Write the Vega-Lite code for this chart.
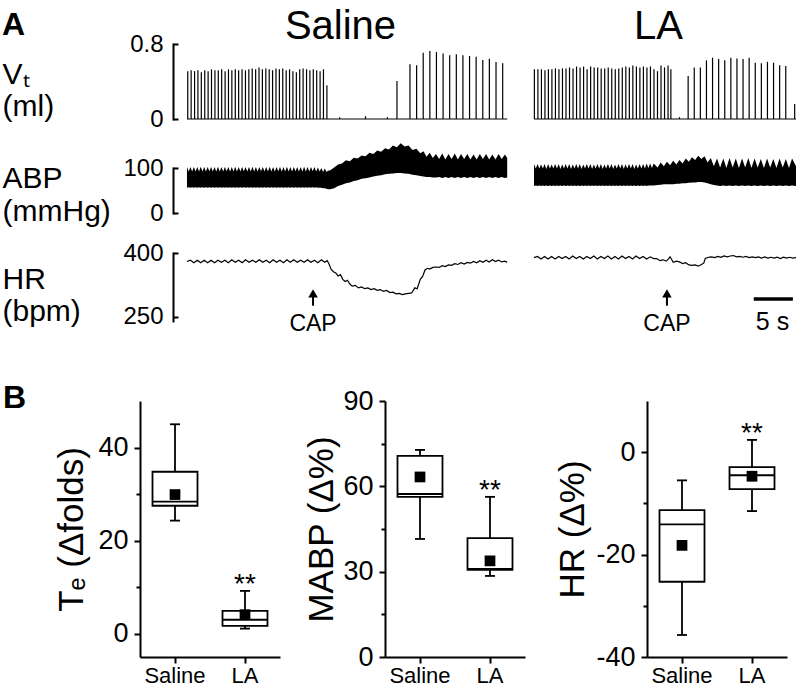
{
"$schema": "https://vega.github.io/schema/vega-lite/v6.json",
"padding": {"left": 2, "top": 6, "right": 0, "bottom": 0},
"config": {"font": "Liberation Sans", "view": {"stroke": null}, "axis": {"grid": false, "domainColor": "black", "tickColor": "black", "labelColor": "black", "titleColor": "black", "titleFontWeight": "normal"}},
"datasets": {
"vtS": [{"t":0.1,"v":0.51},{"t":0.53,"v":0.52},{"t":0.97,"v":0.51},{"t":1.4,"v":0.52},{"t":1.83,"v":0.5},{"t":2.27,"v":0.52},{"t":2.7,"v":0.51},{"t":3.13,"v":0.53},{"t":3.57,"v":0.52},{"t":4.0,"v":0.52},{"t":4.43,"v":0.53},{"t":4.87,"v":0.51},{"t":5.3,"v":0.53},{"t":5.73,"v":0.52},{"t":6.17,"v":0.53},{"t":6.6,"v":0.52},{"t":7.03,"v":0.53},{"t":7.47,"v":0.52},{"t":7.9,"v":0.53},{"t":8.33,"v":0.54},{"t":8.77,"v":0.53},{"t":9.2,"v":0.55},{"t":9.63,"v":0.53},{"t":10.07,"v":0.54},{"t":10.5,"v":0.53},{"t":10.93,"v":0.52},{"t":11.37,"v":0.54},{"t":11.8,"v":0.53},{"t":12.23,"v":0.54},{"t":12.67,"v":0.52},{"t":13.1,"v":0.53},{"t":13.53,"v":0.51},{"t":13.97,"v":0.5},{"t":14.4,"v":0.53},{"t":14.83,"v":0.54},{"t":15.27,"v":0.53},{"t":15.7,"v":0.52},{"t":16.13,"v":0.53},{"t":16.57,"v":0.52},{"t":17.0,"v":0.51},{"t":17.43,"v":0.53},{"t":17.87,"v":0.36},{"t":19.5,"v":0.02},{"t":22.8,"v":0.03},{"t":25.6,"v":0.02},{"t":26.82,"v":0.405},{"t":28.48,"v":0.583},{"t":29.33,"v":0.573},{"t":30.17,"v":0.707},{"t":31.02,"v":0.725},{"t":31.86,"v":0.715},{"t":32.71,"v":0.7},{"t":33.55,"v":0.68},{"t":34.4,"v":0.69},{"t":35.24,"v":0.68},{"t":36.09,"v":0.672},{"t":36.93,"v":0.665},{"t":37.78,"v":0.63},{"t":38.62,"v":0.643},{"t":39.47,"v":0.608},{"t":40.32,"v":0.594}],
"vtL": [{"t":0.05,"v":0.53},{"t":0.5,"v":0.53},{"t":0.95,"v":0.53},{"t":1.4,"v":0.52},{"t":1.84,"v":0.53},{"t":2.29,"v":0.53},{"t":2.74,"v":0.54},{"t":3.19,"v":0.53},{"t":3.64,"v":0.54},{"t":4.09,"v":0.54},{"t":4.54,"v":0.55},{"t":4.99,"v":0.54},{"t":5.44,"v":0.56},{"t":5.89,"v":0.55},{"t":6.34,"v":0.56},{"t":6.79,"v":0.53},{"t":7.24,"v":0.56},{"t":7.69,"v":0.55},{"t":8.14,"v":0.55},{"t":8.59,"v":0.54},{"t":9.04,"v":0.54},{"t":9.49,"v":0.55},{"t":9.94,"v":0.54},{"t":10.39,"v":0.53},{"t":10.84,"v":0.54},{"t":11.29,"v":0.55},{"t":11.74,"v":0.56},{"t":12.19,"v":0.55},{"t":12.64,"v":0.57},{"t":13.09,"v":0.56},{"t":13.54,"v":0.55},{"t":13.99,"v":0.56},{"t":14.44,"v":0.55},{"t":14.89,"v":0.56},{"t":15.34,"v":0.53},{"t":15.79,"v":0.51},{"t":16.24,"v":0.57},{"t":16.69,"v":0.55},{"t":17.14,"v":0.57},{"t":17.5,"v":0.53},{"t":18.6,"v":0.02},{"t":19.71,"v":0.46},{"t":20.49,"v":0.55},{"t":21.27,"v":0.55},{"t":22.05,"v":0.626},{"t":22.83,"v":0.654},{"t":23.61,"v":0.64},{"t":24.39,"v":0.626},{"t":25.17,"v":0.654},{"t":25.95,"v":0.646},{"t":26.73,"v":0.64},{"t":27.51,"v":0.654},{"t":28.29,"v":0.6},{"t":29.07,"v":0.594},{"t":29.85,"v":0.61},{"t":30.63,"v":0.6},{"t":31.41,"v":0.573},{"t":32.19,"v":0.565},{"t":33.33,"v":0.16}],
"segS": [{"t":0,"t2":40.9}],
"segL": [{"t":0,"t2":33.5}],
"abpS": [{"t":0,"lo":56,"hi":102},{"t":0.22,"lo":57,"hi":92},{"t":0.44,"lo":56,"hi":102},{"t":0.66,"lo":57,"hi":92},{"t":0.88,"lo":56,"hi":102},{"t":1.1,"lo":57,"hi":92},{"t":1.32,"lo":56,"hi":102},{"t":1.54,"lo":57,"hi":92},{"t":1.76,"lo":56,"hi":103},{"t":1.98,"lo":57,"hi":92},{"t":2.2,"lo":56,"hi":102},{"t":2.42,"lo":57,"hi":92},{"t":2.64,"lo":56,"hi":102},{"t":2.86,"lo":57,"hi":93},{"t":3.08,"lo":56,"hi":102},{"t":3.3,"lo":57,"hi":92},{"t":3.52,"lo":56,"hi":102},{"t":3.74,"lo":57,"hi":92},{"t":3.96,"lo":56,"hi":103},{"t":4.18,"lo":57,"hi":92},{"t":4.4,"lo":56,"hi":102},{"t":4.62,"lo":57,"hi":92},{"t":4.84,"lo":56,"hi":102},{"t":5.06,"lo":57,"hi":93},{"t":5.28,"lo":56,"hi":102},{"t":5.5,"lo":57,"hi":92},{"t":5.72,"lo":56,"hi":102},{"t":5.94,"lo":57,"hi":92},{"t":6.16,"lo":56,"hi":103},{"t":6.38,"lo":57,"hi":92},{"t":6.6,"lo":56,"hi":102},{"t":6.82,"lo":57,"hi":92},{"t":7.04,"lo":56,"hi":102},{"t":7.26,"lo":57,"hi":93},{"t":7.48,"lo":56,"hi":102},{"t":7.7,"lo":57,"hi":92},{"t":7.92,"lo":56,"hi":102},{"t":8.14,"lo":57,"hi":92},{"t":8.36,"lo":56,"hi":103},{"t":8.58,"lo":57,"hi":92},{"t":8.8,"lo":56,"hi":102},{"t":9.02,"lo":57,"hi":92},{"t":9.24,"lo":56,"hi":102},{"t":9.46,"lo":57,"hi":93},{"t":9.68,"lo":56,"hi":102},{"t":9.9,"lo":57,"hi":92},{"t":10.12,"lo":56,"hi":102},{"t":10.34,"lo":57,"hi":92},{"t":10.56,"lo":56,"hi":103},{"t":10.78,"lo":57,"hi":92},{"t":11.0,"lo":56,"hi":102},{"t":11.22,"lo":57,"hi":92},{"t":11.44,"lo":56,"hi":102},{"t":11.66,"lo":57,"hi":93},{"t":11.88,"lo":56,"hi":102},{"t":12.1,"lo":57,"hi":92},{"t":12.32,"lo":56,"hi":102},{"t":12.54,"lo":57,"hi":92},{"t":12.76,"lo":56,"hi":103},{"t":12.98,"lo":57,"hi":92},{"t":13.2,"lo":56,"hi":102},{"t":13.42,"lo":57,"hi":92},{"t":13.64,"lo":56,"hi":102},{"t":13.86,"lo":57,"hi":93},{"t":14.08,"lo":56,"hi":102},{"t":14.3,"lo":57,"hi":92},{"t":14.52,"lo":56,"hi":102},{"t":14.74,"lo":57,"hi":92},{"t":14.96,"lo":56,"hi":103},{"t":15.18,"lo":57,"hi":92},{"t":15.4,"lo":56,"hi":102},{"t":15.62,"lo":57,"hi":92},{"t":15.84,"lo":56,"hi":102},{"t":16.06,"lo":57,"hi":93},{"t":16.28,"lo":56,"hi":102},{"t":16.5,"lo":57,"hi":92},{"t":16.72,"lo":56,"hi":101},{"t":16.94,"lo":56,"hi":92},{"t":17.16,"lo":56,"hi":100},{"t":17.38,"lo":55,"hi":91},{"t":17.6,"lo":55,"hi":99},{"t":17.82,"lo":54,"hi":91},{"t":18.0,"lo":53,"hi":94},{"t":18.3,"lo":53,"hi":95},{"t":18.8,"lo":55,"hi":101},{"t":19.3,"lo":60,"hi":108},{"t":19.8,"lo":63,"hi":110},{"t":20.3,"lo":66,"hi":117},{"t":20.8,"lo":68,"hi":115},{"t":21.3,"lo":71,"hi":123},{"t":21.8,"lo":73,"hi":121},{"t":22.3,"lo":76,"hi":128},{"t":22.8,"lo":77,"hi":126},{"t":23.3,"lo":79,"hi":134},{"t":23.8,"lo":81,"hi":131},{"t":24.3,"lo":83,"hi":139},{"t":24.8,"lo":84,"hi":136},{"t":25.3,"lo":86,"hi":144},{"t":25.8,"lo":87,"hi":141},{"t":26.3,"lo":88,"hi":150},{"t":26.8,"lo":89,"hi":146},{"t":27.3,"lo":89,"hi":155},{"t":27.8,"lo":88,"hi":148},{"t":28.3,"lo":87,"hi":150},{"t":28.8,"lo":85,"hi":140},{"t":29.3,"lo":84,"hi":143},{"t":29.8,"lo":82,"hi":133},{"t":30.2,"lo":81,"hi":137},{"t":30.6,"lo":80,"hi":125},{"t":31.0,"lo":80,"hi":134},{"t":31.4,"lo":79,"hi":122},{"t":31.8,"lo":79,"hi":131},{"t":32.2,"lo":80,"hi":120},{"t":32.6,"lo":78,"hi":132},{"t":33.0,"lo":80,"hi":119},{"t":33.4,"lo":78,"hi":131},{"t":33.8,"lo":80,"hi":120},{"t":34.2,"lo":78,"hi":132},{"t":34.6,"lo":80,"hi":119},{"t":35.0,"lo":78,"hi":131},{"t":35.4,"lo":80,"hi":120},{"t":35.8,"lo":78,"hi":131},{"t":36.2,"lo":80,"hi":119},{"t":36.6,"lo":78,"hi":130},{"t":37.0,"lo":80,"hi":119},{"t":37.4,"lo":78,"hi":131},{"t":37.8,"lo":80,"hi":120},{"t":38.2,"lo":78,"hi":131},{"t":38.6,"lo":80,"hi":119},{"t":39.0,"lo":78,"hi":130},{"t":39.4,"lo":80,"hi":119},{"t":39.8,"lo":78,"hi":131},{"t":40.2,"lo":80,"hi":120},{"t":40.6,"lo":78,"hi":130},{"t":40.9,"lo":79,"hi":122}],
"abpL": [{"t":0,"lo":60,"hi":109},{"t":0.23,"lo":61,"hi":99},{"t":0.45,"lo":60,"hi":109},{"t":0.68,"lo":61,"hi":99},{"t":0.9,"lo":60,"hi":108},{"t":1.13,"lo":61,"hi":99},{"t":1.35,"lo":60,"hi":109},{"t":1.58,"lo":61,"hi":98},{"t":1.8,"lo":60,"hi":109},{"t":2.03,"lo":61,"hi":99},{"t":2.25,"lo":60,"hi":108},{"t":2.48,"lo":61,"hi":99},{"t":2.7,"lo":60,"hi":109},{"t":2.93,"lo":61,"hi":99},{"t":3.15,"lo":60,"hi":109},{"t":3.38,"lo":61,"hi":98},{"t":3.6,"lo":60,"hi":108},{"t":3.83,"lo":61,"hi":99},{"t":4.05,"lo":60,"hi":109},{"t":4.28,"lo":61,"hi":99},{"t":4.5,"lo":60,"hi":109},{"t":4.73,"lo":61,"hi":98},{"t":4.95,"lo":60,"hi":108},{"t":5.18,"lo":61,"hi":99},{"t":5.4,"lo":60,"hi":109},{"t":5.63,"lo":61,"hi":99},{"t":5.85,"lo":60,"hi":109},{"t":6.08,"lo":61,"hi":98},{"t":6.3,"lo":60,"hi":108},{"t":6.53,"lo":61,"hi":99},{"t":6.75,"lo":60,"hi":109},{"t":6.98,"lo":61,"hi":99},{"t":7.2,"lo":60,"hi":109},{"t":7.43,"lo":61,"hi":98},{"t":7.65,"lo":60,"hi":108},{"t":7.88,"lo":61,"hi":99},{"t":8.1,"lo":60,"hi":109},{"t":8.33,"lo":61,"hi":99},{"t":8.55,"lo":60,"hi":109},{"t":8.78,"lo":61,"hi":98},{"t":9.0,"lo":60,"hi":108},{"t":9.23,"lo":61,"hi":99},{"t":9.45,"lo":60,"hi":109},{"t":9.68,"lo":61,"hi":99},{"t":9.9,"lo":60,"hi":109},{"t":10.13,"lo":61,"hi":98},{"t":10.35,"lo":60,"hi":108},{"t":10.58,"lo":61,"hi":99},{"t":10.8,"lo":60,"hi":109},{"t":11.03,"lo":61,"hi":99},{"t":11.25,"lo":60,"hi":109},{"t":11.48,"lo":61,"hi":98},{"t":11.7,"lo":60,"hi":108},{"t":11.93,"lo":61,"hi":99},{"t":12.15,"lo":60,"hi":109},{"t":12.38,"lo":61,"hi":99},{"t":12.6,"lo":60,"hi":109},{"t":12.83,"lo":61,"hi":98},{"t":13.05,"lo":60,"hi":108},{"t":13.28,"lo":61,"hi":99},{"t":13.5,"lo":60,"hi":109},{"t":13.73,"lo":61,"hi":99},{"t":13.95,"lo":60,"hi":109},{"t":14.18,"lo":61,"hi":99},{"t":14.4,"lo":60,"hi":110},{"t":14.63,"lo":61,"hi":100},{"t":14.85,"lo":61,"hi":110},{"t":15.08,"lo":61,"hi":100},{"t":15.3,"lo":61,"hi":110},{"t":15.8,"lo":62,"hi":101},{"t":16.2,"lo":63,"hi":112},{"t":16.6,"lo":64,"hi":104},{"t":17.0,"lo":64,"hi":114},{"t":17.4,"lo":64,"hi":106},{"t":17.8,"lo":64,"hi":116},{"t":18.2,"lo":65,"hi":108},{"t":18.6,"lo":65,"hi":118},{"t":19.0,"lo":66,"hi":110},{"t":19.4,"lo":66,"hi":121},{"t":19.8,"lo":67,"hi":114},{"t":20.2,"lo":68,"hi":124},{"t":20.6,"lo":68,"hi":118},{"t":21.0,"lo":69,"hi":127},{"t":21.4,"lo":69,"hi":120},{"t":21.8,"lo":68,"hi":126},{"t":22.2,"lo":66,"hi":112},{"t":22.6,"lo":64,"hi":122},{"t":23.0,"lo":62,"hi":104},{"t":23.4,"lo":61,"hi":121},{"t":23.8,"lo":60,"hi":101},{"t":24.2,"lo":61,"hi":121},{"t":24.6,"lo":60,"hi":100},{"t":25.0,"lo":61,"hi":122},{"t":25.4,"lo":60,"hi":101},{"t":25.8,"lo":61,"hi":121},{"t":26.2,"lo":60,"hi":100},{"t":26.6,"lo":61,"hi":121},{"t":27.0,"lo":60,"hi":101},{"t":27.4,"lo":61,"hi":122},{"t":27.8,"lo":60,"hi":100},{"t":28.2,"lo":61,"hi":121},{"t":28.6,"lo":60,"hi":101},{"t":29.0,"lo":61,"hi":120},{"t":29.4,"lo":60,"hi":100},{"t":29.8,"lo":61,"hi":121},{"t":30.2,"lo":60,"hi":101},{"t":30.6,"lo":61,"hi":120},{"t":31.0,"lo":60,"hi":100},{"t":31.4,"lo":61,"hi":121},{"t":31.8,"lo":60,"hi":101},{"t":32.2,"lo":61,"hi":120},{"t":32.6,"lo":60,"hi":100},{"t":33.0,"lo":61,"hi":121},{"t":33.5,"lo":60,"hi":104}],
"hrS": [{"t":0,"v":380},{"t":0.44,"v":383},{"t":0.88,"v":377},{"t":1.32,"v":383},{"t":1.76,"v":377},{"t":2.2,"v":383},{"t":2.64,"v":377},{"t":3.08,"v":383},{"t":3.52,"v":377},{"t":3.96,"v":383},{"t":4.4,"v":378},{"t":4.84,"v":383},{"t":5.28,"v":377},{"t":5.72,"v":384},{"t":6.16,"v":378},{"t":6.6,"v":383},{"t":7.04,"v":377},{"t":7.48,"v":384},{"t":7.92,"v":378},{"t":8.36,"v":383},{"t":8.8,"v":378},{"t":9.24,"v":384},{"t":9.68,"v":378},{"t":10.12,"v":383},{"t":10.56,"v":377},{"t":11.0,"v":384},{"t":11.44,"v":378},{"t":11.88,"v":383},{"t":12.32,"v":377},{"t":12.76,"v":384},{"t":13.2,"v":378},{"t":13.64,"v":384},{"t":14.08,"v":378},{"t":14.52,"v":383},{"t":14.96,"v":378},{"t":15.4,"v":384},{"t":15.84,"v":378},{"t":16.28,"v":383},{"t":16.72,"v":377},{"t":17.16,"v":384},{"t":17.6,"v":378},{"t":17.9,"v":382},{"t":18.1,"v":376},{"t":18.4,"v":362},{"t":18.7,"v":356},{"t":19.0,"v":353},{"t":19.3,"v":346},{"t":19.6,"v":349},{"t":19.9,"v":338},{"t":20.2,"v":333},{"t":20.5,"v":336},{"t":20.8,"v":327},{"t":21.1,"v":322},{"t":21.5,"v":324},{"t":21.9,"v":318},{"t":22.3,"v":320},{"t":22.7,"v":316},{"t":23.1,"v":318},{"t":23.5,"v":314},{"t":23.9,"v":316},{"t":24.3,"v":312},{"t":24.7,"v":314},{"t":25.1,"v":310},{"t":25.5,"v":312},{"t":25.9,"v":307},{"t":26.3,"v":308},{"t":26.7,"v":304},{"t":27.1,"v":305},{"t":27.5,"v":302},{"t":27.9,"v":304},{"t":28.3,"v":305},{"t":28.7,"v":306},{"t":29.1,"v":318},{"t":29.4,"v":316},{"t":29.8,"v":338},{"t":30.1,"v":345},{"t":30.4,"v":360},{"t":30.7,"v":364},{"t":31.0,"v":362},{"t":31.4,"v":366},{"t":31.8,"v":367},{"t":32.2,"v":366},{"t":32.6,"v":370},{"t":33.0,"v":368},{"t":33.4,"v":372},{"t":33.8,"v":371},{"t":34.2,"v":375},{"t":34.6,"v":373},{"t":35.0,"v":377},{"t":35.4,"v":374},{"t":35.8,"v":378},{"t":36.2,"v":376},{"t":36.6,"v":380},{"t":37.0,"v":377},{"t":37.4,"v":382},{"t":37.8,"v":378},{"t":38.2,"v":383},{"t":38.6,"v":379},{"t":39.0,"v":384},{"t":39.4,"v":380},{"t":39.8,"v":383},{"t":40.2,"v":379},{"t":40.6,"v":381},{"t":40.9,"v":378}],
"hrL": [{"t":0,"v":389},{"t":0.45,"v":392},{"t":0.9,"v":386},{"t":1.35,"v":392},{"t":1.8,"v":386},{"t":2.25,"v":392},{"t":2.7,"v":386},{"t":3.15,"v":392},{"t":3.6,"v":387},{"t":4.05,"v":392},{"t":4.5,"v":386},{"t":4.95,"v":393},{"t":5.4,"v":387},{"t":5.85,"v":392},{"t":6.3,"v":386},{"t":6.75,"v":392},{"t":7.2,"v":387},{"t":7.65,"v":393},{"t":8.1,"v":386},{"t":8.55,"v":392},{"t":9.0,"v":387},{"t":9.45,"v":393},{"t":9.9,"v":386},{"t":10.35,"v":392},{"t":10.8,"v":386},{"t":11.25,"v":393},{"t":11.7,"v":387},{"t":12.15,"v":392},{"t":12.6,"v":386},{"t":13.05,"v":393},{"t":13.5,"v":387},{"t":13.95,"v":392},{"t":14.4,"v":386},{"t":14.85,"v":391},{"t":15.3,"v":387},{"t":15.7,"v":387},{"t":16.1,"v":382},{"t":16.5,"v":384},{"t":16.9,"v":381},{"t":17.2,"v":386},{"t":17.4,"v":391},{"t":17.8,"v":378},{"t":18.2,"v":381},{"t":18.6,"v":379},{"t":19.0,"v":375},{"t":19.4,"v":377},{"t":19.8,"v":372},{"t":20.2,"v":371},{"t":20.6,"v":372},{"t":21.0,"v":369},{"t":21.4,"v":373},{"t":21.7,"v":376},{"t":21.9,"v":387},{"t":22.3,"v":390},{"t":22.7,"v":391},{"t":23.1,"v":389},{"t":23.5,"v":392},{"t":23.9,"v":390},{"t":24.3,"v":393},{"t":24.7,"v":391},{"t":25.1,"v":393},{"t":25.5,"v":394},{"t":25.9,"v":391},{"t":26.3,"v":392},{"t":26.7,"v":390},{"t":27.1,"v":392},{"t":27.5,"v":389},{"t":27.9,"v":391},{"t":28.3,"v":389},{"t":28.7,"v":391},{"t":29.1,"v":388},{"t":29.5,"v":391},{"t":29.9,"v":388},{"t":30.3,"v":390},{"t":30.7,"v":388},{"t":31.1,"v":390},{"t":31.5,"v":387},{"t":31.9,"v":390},{"t":32.3,"v":388},{"t":32.7,"v":390},{"t":33.1,"v":388},{"t":33.5,"v":389}],
"box": [
{"plot":"TE","group":"Saline","lo":24.3,"q1":27.5,"med":28.4,"q3":34.8,"hi":45,"mean":29.9},
{"plot":"TE","group":"LA","lo":1.1,"q1":1.7,"med":3.0,"q3":4.9,"hi":9.2,"mean":4.1},
{"plot":"MABP","group":"Saline","lo":41.5,"q1":56.3,"med":57.3,"q3":70.7,"hi":72.8,"mean":63.3},
{"plot":"MABP","group":"LA","lo":28.5,"q1":30.6,"med":31.0,"q3":41.8,"hi":56.3,"mean":33.8},
{"plot":"HR","group":"Saline","lo":-35.7,"q1":-25.3,"med":-14.1,"q3":-11.3,"hi":-5.5,"mean":-18.2},
{"plot":"HR","group":"LA","lo":-11.5,"q1":-7.2,"med":-4.5,"q3":-2.9,"hi":2.4,"mean":-4.7}
]
},
"spacing": 15,
"vconcat": [
{"spacing": 12, "vconcat": [
{"title": {"text": "A", "anchor": "start", "frame": "bounds", "fontSize": 32, "fontWeight": "bold", "color": "black", "baseline": "alphabetic", "offset": -26, "dy": 35},
"spacing": 26, "bounds": "flush", "hconcat": [
{"width": 368, "height": 75,
"encoding": {"x": {"field": "t", "type": "quantitative", "scale": {"domain": [-6, 41]}, "axis": {"orient": "top", "domain": false, "ticks": false, "labels": false, "title": "Saline", "titleFontSize": 40, "titleFontWeight": "normal", "titleBaseline": "alphabetic", "titleAlign": "center", "titleX": 200, "titleY": -6}}},
"layer": [
{"data": {"name": "vtS"}, "mark": {"type": "rule", "color": "black", "strokeWidth": 1.2},
"encoding": {"y": {"field": "v", "type": "quantitative", "scale": {"domain": [0, 0.8]}, "axis": {"orient": "left", "offset": -33, "values": [0, 0.8], "format": "~g", "domainWidth": 2, "domainCap": "square", "tickSize": -5, "tickWidth": 2, "labelFontSize": 24, "labelPadding": 15, "title": ["Vₜ", "(ml)"], "titleAngle": 0, "titleAlign": "left", "titleBaseline": "alphabetic", "titleX": -171, "titleY": 39, "titleFontSize": 30, "titleLineHeight": 32}}, "y2": {"datum": 0}}},
{"data": {"name": "segS"}, "mark": {"type": "rule", "color": "black", "strokeWidth": 1.2},
"encoding": {"x2": {"field": "t2"}, "y": {"datum": 0, "type": "quantitative"}}}
]},
{"width": 262, "height": 75,
"encoding": {"x": {"field": "t", "type": "quantitative", "scale": {"domain": [0, 33.5]}, "axis": {"orient": "top", "domain": false, "ticks": false, "labels": false, "title": "LA", "titleFontSize": 40, "titleFontWeight": "normal", "titleBaseline": "alphabetic", "titleAlign": "center", "titleX": 124, "titleY": -6}}},
"layer": [
{"data": {"name": "vtL"}, "mark": {"type": "rule", "color": "black", "strokeWidth": 1.2},
"encoding": {"y": {"field": "v", "type": "quantitative", "scale": {"domain": [0, 0.8]}, "axis": null}, "y2": {"datum": 0}}},
{"data": {"name": "segL"}, "mark": {"type": "rule", "color": "black", "strokeWidth": 1.2},
"encoding": {"x2": {"field": "t2"}, "y": {"datum": 0, "type": "quantitative", "axis": null}}}
]}
]},
{"spacing": 26, "bounds": "flush", "hconcat": [
{"width": 368, "height": 45, "data": {"name": "abpS"},
"mark": {"type": "area", "color": "black"},
"encoding": {"x": {"field": "t", "type": "quantitative", "scale": {"domain": [-6, 41]}, "axis": null},
"y": {"field": "hi", "type": "quantitative", "scale": {"domain": [0, 100]}, "axis": {"orient": "left", "offset": -33, "values": [0, 100], "domainWidth": 2, "domainCap": "square", "tickSize": -5, "tickWidth": 2, "labelFontSize": 24, "labelPadding": 15, "title": ["ABP", "(mmHg)"], "titleAngle": 0, "titleAlign": "left", "titleBaseline": "alphabetic", "titleX": -171, "titleY": 19, "titleFontSize": 30, "titleLineHeight": 33}},
"y2": {"field": "lo"}}},
{"width": 262, "height": 45, "data": {"name": "abpL"},
"mark": {"type": "area", "color": "black"},
"encoding": {"x": {"field": "t", "type": "quantitative", "scale": {"domain": [0, 33.5]}, "axis": null},
"y": {"field": "hi", "type": "quantitative", "scale": {"domain": [0, 100]}, "axis": null},
"y2": {"field": "lo"}}}
]}
]},
{"spacing": 46, "vconcat": [
{"spacing": 26, "bounds": "flush", "hconcat": [
{"width": 368, "height": 68,
"encoding": {"x": {"field": "t", "type": "quantitative", "scale": {"domain": [-6, 41]}, "axis": null}},
"layer": [
{"data": {"name": "hrS"}, "mark": {"type": "line", "color": "black", "strokeWidth": 1.2},
"encoding": {"y": {"field": "v", "type": "quantitative", "scale": {"domain": [250, 400]}, "axis": {"orient": "left", "offset": -33, "values": [250, 400], "domainWidth": 2, "domainCap": "square", "tickSize": -5, "tickWidth": 2, "labelFontSize": 24, "labelPadding": 15, "title": ["HR", "(bpm)"], "titleAngle": 0, "titleAlign": "left", "titleBaseline": "alphabetic", "titleX": -171, "titleY": 35, "titleFontSize": 30, "titleLineHeight": 32}}}},
{"data": {"values": [{"t": 16.1}]}, "mark": {"type": "rule", "color": "black", "strokeWidth": 2},
"encoding": {"y": {"datum": 298, "type": "quantitative"}, "y2": {"datum": 276}}},
{"data": {"values": [{"t": 16.1}]}, "mark": {"type": "point", "shape": "triangle-up", "filled": true, "color": "black", "opacity": 1, "size": 90},
"encoding": {"y": {"datum": 305, "type": "quantitative"}}},
{"data": {"values": [{"t": 16.1, "lab": "CAP"}]}, "mark": {"type": "text", "color": "black", "fontSize": 23, "baseline": "alphabetic", "align": "center"},
"encoding": {"y": {"datum": 217, "type": "quantitative"}, "text": {"field": "lab"}}}
]},
{"width": 262, "height": 68,
"encoding": {"x": {"field": "t", "type": "quantitative", "scale": {"domain": [0, 33.5]}, "axis": null}},
"layer": [
{"data": {"name": "hrL"}, "mark": {"type": "line", "color": "black", "strokeWidth": 1.2},
"encoding": {"y": {"field": "v", "type": "quantitative", "scale": {"domain": [250, 400]}, "axis": null}}},
{"data": {"values": [{"t": 17.0}]}, "mark": {"type": "rule", "color": "black", "strokeWidth": 2},
"encoding": {"y": {"datum": 298, "type": "quantitative", "axis": null}, "y2": {"datum": 276}}},
{"data": {"values": [{"t": 17.0}]}, "mark": {"type": "point", "shape": "triangle-up", "filled": true, "color": "black", "opacity": 1, "size": 90},
"encoding": {"y": {"datum": 305, "type": "quantitative", "axis": null}}},
{"data": {"values": [{"t": 17.0, "lab": "CAP"}]}, "mark": {"type": "text", "color": "black", "fontSize": 23, "baseline": "alphabetic", "align": "center"},
"encoding": {"y": {"datum": 217, "type": "quantitative", "axis": null}, "text": {"field": "lab"}}},
{"data": {"values": [{"t": 28.1, "t2": 33.1}]}, "mark": {"type": "rule", "color": "black", "strokeWidth": 3.5},
"encoding": {"x2": {"field": "t2"}, "y": {"datum": 292, "type": "quantitative", "axis": null}}},
{"data": {"values": [{"t": 30.5, "lab": "5 s"}]}, "mark": {"type": "text", "color": "black", "fontSize": 25, "baseline": "alphabetic", "align": "center"},
"encoding": {"y": {"datum": 219, "type": "quantitative", "axis": null}, "text": {"field": "lab"}}}
]}
]},
{
"title": {"text": "B", "anchor": "start", "frame": "bounds", "fontSize": 32, "fontWeight": "bold", "color": "black", "baseline": "alphabetic", "offset": -20, "dx": -52, "dy": 33},
"spacing": 30,
"hconcat": [
{"spacing": 105, "bounds": "flush", "hconcat": [
{"width": 140, "height": 256, "data": {"name": "box"}, "transform": [{"filter": "datum.plot === 'TE'"}],
"encoding": {"x": {"field": "group", "type": "nominal", "sort": ["Saline", "LA"], "scale": {"paddingInner": 0.36, "paddingOuter": 0.18}, "axis": {"title": null, "labelAngle": 0, "labelFontSize": 22, "labelPadding": 2, "tickSize": 6, "tickWidth": 2, "domainWidth": 2}}},
"layer": [
{"mark": {"type": "rule", "color": "black", "strokeWidth": 1.8}, "encoding": {"y": {"field": "lo", "type": "quantitative", "scale": {"domain": [-5, 50]}, "axis": {"values": [0, 10, 20, 30, 40], "labelExpr": "datum.value % 20 === 0 ? '' + datum.value : ''", "tickSize": {"condition": {"test": "datum.value % 20 === 0", "value": 6}, "value": 4}, "tickWidth": 2, "domainWidth": 2, "labelFontSize": 27, "labelPadding": 6, "title": "Tₑ (Δfolds)", "titleFontSize": 35, "titlePadding": 8}}, "y2": {"field": "hi"}}},
{"mark": {"type": "tick", "color": "black", "opacity": 1, "size": 10, "thickness": 1.8}, "encoding": {"y": {"field": "lo", "type": "quantitative"}}},
{"mark": {"type": "tick", "color": "black", "opacity": 1, "size": 10, "thickness": 1.8}, "encoding": {"y": {"field": "hi", "type": "quantitative"}}},
{"mark": {"type": "bar", "fill": "white", "stroke": "black", "strokeWidth": 1.8, "size": 45}, "encoding": {"y": {"field": "q1", "type": "quantitative"}, "y2": {"field": "q3"}}},
{"mark": {"type": "tick", "color": "black", "opacity": 1, "size": 45, "thickness": 1.8}, "encoding": {"y": {"field": "med", "type": "quantitative"}}},
{"mark": {"type": "square", "color": "black", "filled": true, "opacity": 1, "size": 115}, "encoding": {"y": {"field": "mean", "type": "quantitative"}}},
{"transform": [{"filter": "datum.group === 'LA'"}], "mark": {"type": "text", "text": "**", "fontSize": 28, "baseline": "alphabetic", "dy": 2, "color": "black"}, "encoding": {"y": {"field": "hi", "type": "quantitative"}}}
]},
{"width": 140, "height": 256, "data": {"name": "box"}, "transform": [{"filter": "datum.plot === 'MABP'"}],
"encoding": {"x": {"field": "group", "type": "nominal", "sort": ["Saline", "LA"], "scale": {"paddingInner": 0.36, "paddingOuter": 0.18}, "axis": {"title": null, "labelAngle": 0, "labelFontSize": 22, "labelPadding": 2, "tickSize": 6, "tickWidth": 2, "domainWidth": 2}}},
"layer": [
{"mark": {"type": "rule", "color": "black", "strokeWidth": 1.8}, "encoding": {"y": {"field": "lo", "type": "quantitative", "scale": {"domain": [0, 90]}, "axis": {"values": [0, 15, 30, 45, 60, 75, 90], "labelExpr": "datum.value % 30 === 0 ? '' + datum.value : ''", "tickSize": {"condition": {"test": "datum.value % 30 === 0", "value": 6}, "value": 4}, "tickWidth": 2, "domainWidth": 2, "labelFontSize": 27, "labelPadding": 6, "title": "MABP (Δ%)", "titleFontSize": 35, "titlePadding": 3}}, "y2": {"field": "hi"}}},
{"mark": {"type": "tick", "color": "black", "opacity": 1, "size": 10, "thickness": 1.8}, "encoding": {"y": {"field": "lo", "type": "quantitative"}}},
{"mark": {"type": "tick", "color": "black", "opacity": 1, "size": 10, "thickness": 1.8}, "encoding": {"y": {"field": "hi", "type": "quantitative"}}},
{"mark": {"type": "bar", "fill": "white", "stroke": "black", "strokeWidth": 1.8, "size": 45}, "encoding": {"y": {"field": "q1", "type": "quantitative"}, "y2": {"field": "q3"}}},
{"mark": {"type": "tick", "color": "black", "opacity": 1, "size": 45, "thickness": 1.8}, "encoding": {"y": {"field": "med", "type": "quantitative"}}},
{"mark": {"type": "square", "color": "black", "filled": true, "opacity": 1, "size": 115}, "encoding": {"y": {"field": "mean", "type": "quantitative"}}},
{"transform": [{"filter": "datum.group === 'LA'"}], "mark": {"type": "text", "text": "**", "fontSize": 28, "baseline": "alphabetic", "dy": 2, "color": "black"}, "encoding": {"y": {"field": "hi", "type": "quantitative"}}}
]}
]},
{"width": 140, "height": 256, "data": {"name": "box"}, "transform": [{"filter": "datum.plot === 'HR'"}],
"encoding": {"x": {"field": "group", "type": "nominal", "sort": ["Saline", "LA"], "scale": {"paddingInner": 0.36, "paddingOuter": 0.18}, "axis": {"title": null, "labelAngle": 0, "labelFontSize": 22, "labelPadding": 2, "tickSize": 6, "tickWidth": 2, "domainWidth": 2}}},
"layer": [
{"mark": {"type": "rule", "color": "black", "strokeWidth": 1.8}, "encoding": {"y": {"field": "lo", "type": "quantitative", "scale": {"domain": [-40, 10]}, "axis": {"values": [-40, -30, -20, -10, 0], "labelExpr": "datum.value % 20 === 0 ? '' + datum.value : ''", "tickSize": {"condition": {"test": "datum.value % 20 === 0", "value": 6}, "value": 4}, "tickWidth": 2, "domainWidth": 2, "labelFontSize": 27, "labelPadding": 6, "title": "HR (Δ%)", "titleFontSize": 35, "titlePadding": 5}}, "y2": {"field": "hi"}}},
{"mark": {"type": "tick", "color": "black", "opacity": 1, "size": 10, "thickness": 1.8}, "encoding": {"y": {"field": "lo", "type": "quantitative"}}},
{"mark": {"type": "tick", "color": "black", "opacity": 1, "size": 10, "thickness": 1.8}, "encoding": {"y": {"field": "hi", "type": "quantitative"}}},
{"mark": {"type": "bar", "fill": "white", "stroke": "black", "strokeWidth": 1.8, "size": 45}, "encoding": {"y": {"field": "q1", "type": "quantitative"}, "y2": {"field": "q3"}}},
{"mark": {"type": "tick", "color": "black", "opacity": 1, "size": 45, "thickness": 1.8}, "encoding": {"y": {"field": "med", "type": "quantitative"}}},
{"mark": {"type": "square", "color": "black", "filled": true, "opacity": 1, "size": 115}, "encoding": {"y": {"field": "mean", "type": "quantitative"}}},
{"transform": [{"filter": "datum.group === 'LA'"}], "mark": {"type": "text", "text": "**", "fontSize": 28, "baseline": "alphabetic", "dy": 2, "color": "black"}, "encoding": {"y": {"field": "hi", "type": "quantitative"}}}
]}
]
}
]}
]
}
